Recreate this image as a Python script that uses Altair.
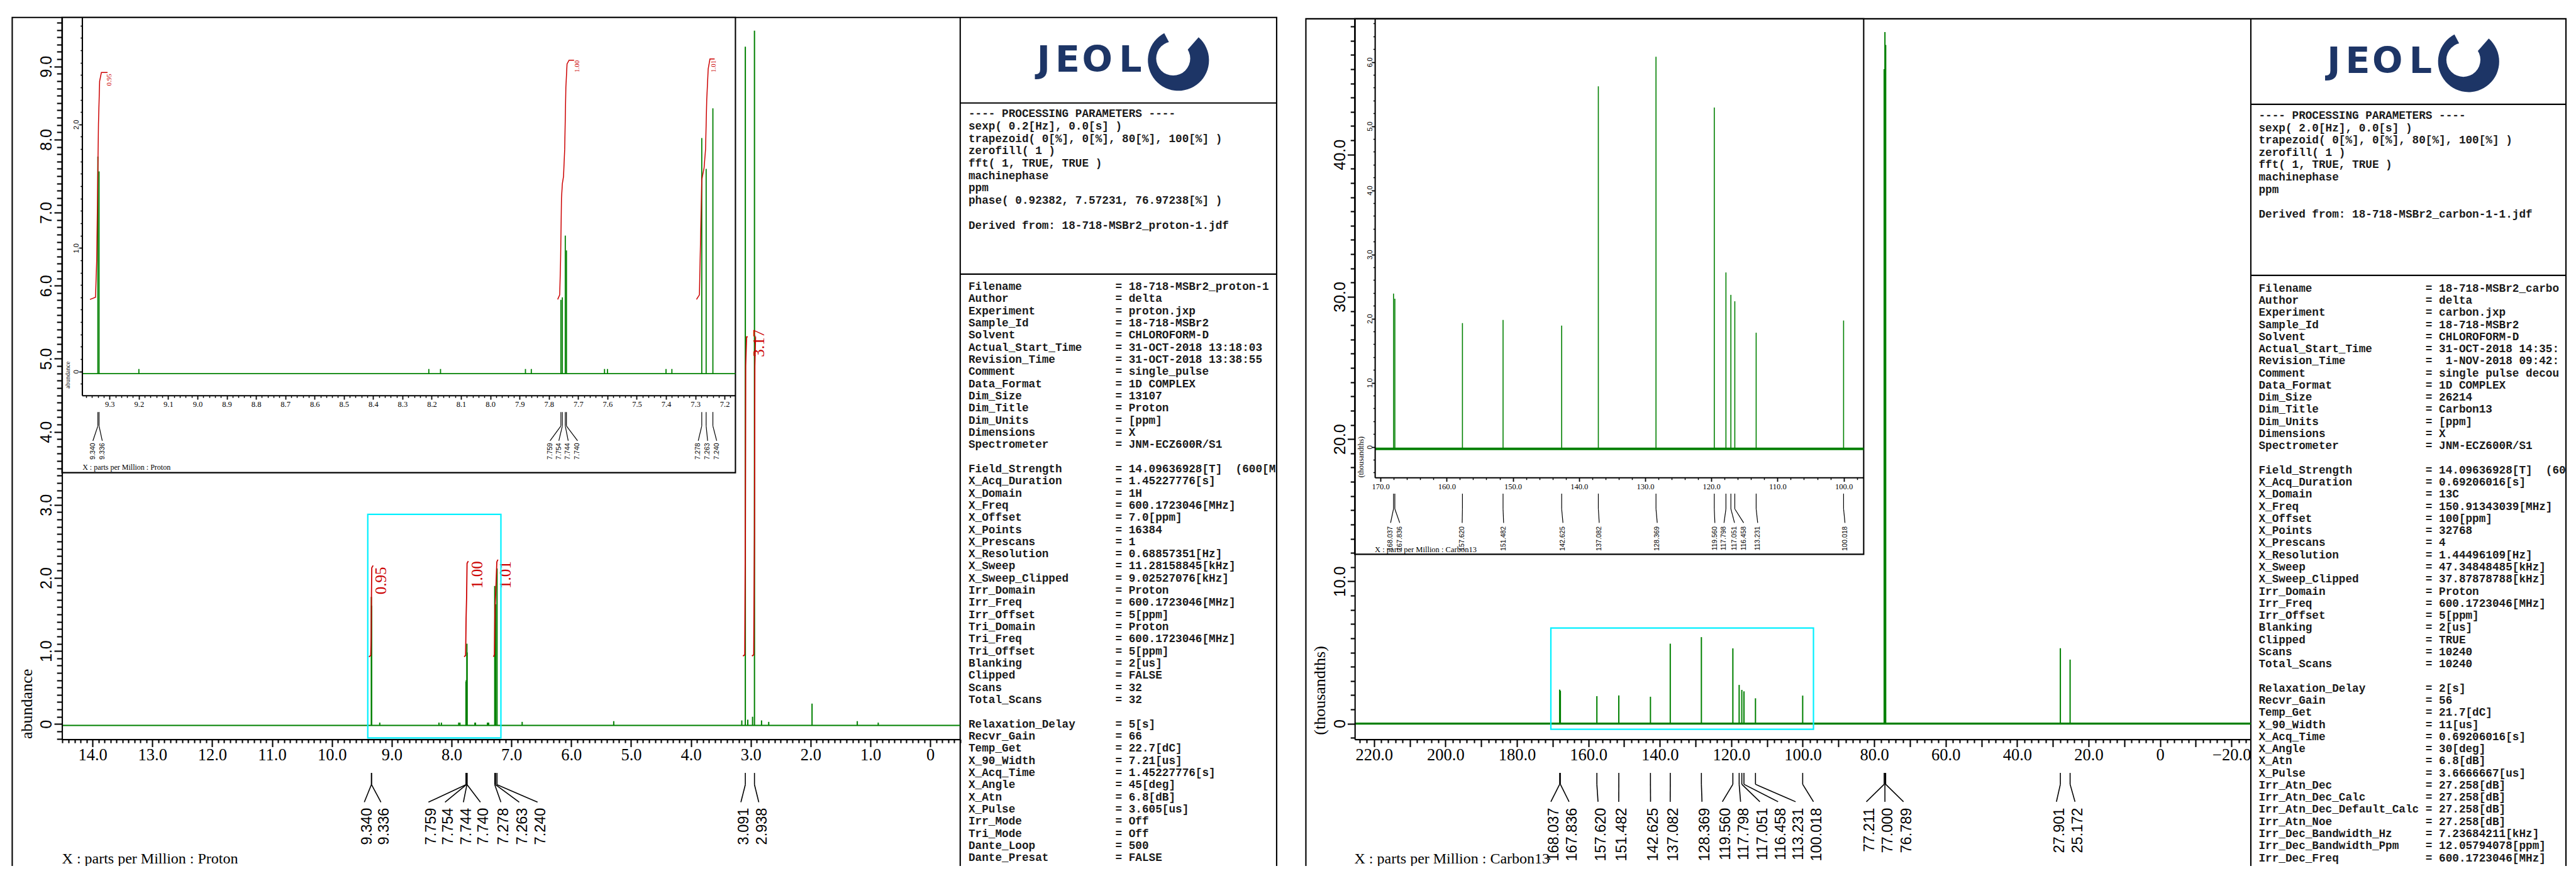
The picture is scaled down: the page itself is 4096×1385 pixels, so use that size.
import altair as alt
import pandas as pd
import numpy as np

S = 0.694
W, H = 4080, 1369


def P(v):
    return v * S - 8.0


GREEN = "#008000"
RED = "#cc0000"
CYAN = "#00f0ff"
NAVY = "#1d3566"
SERIF = "Liberation Serif"
SANS = "Liberation Sans"
MONO = "Liberation Mono"

# ---------------- 1H (proton) spectrum ----------------
H_PEAK_PPM = [9.340, 9.336, 7.759, 7.754, 7.744, 7.740, 7.278, 7.263, 7.240,
              3.091, 2.938, 1.976, 5.290, 3.150, 3.050, 2.970, 2.820, 2.700,
              1.220, 0.870, 9.200, 8.210, 8.170, 7.880, 7.860, 7.610, 7.600,
              7.400, 7.380, 6.820]
H_PEAK_HT = [1.74, 1.62, 0.58, 0.60, 1.10, 0.98, 1.89, 1.64, 2.13,
             9.27, 9.49, 0.28, 0.04, 0.05, 0.06, 0.10, 0.05, 0.03,
             0.04, 0.02, 0.02, 0.02, 0.02, 0.02, 0.02, 0.02, 0.02,
             0.02, 0.02, 0.03]
H_BASE = -0.018
H_LABELS = ["9.340", "9.336", "7.759", "7.754", "7.744", "7.740", "7.278", "7.263", "7.240", "3.091", "2.938"]
H_LABEL_PEAK = [9.340, 9.336, 7.759, 7.754, 7.744, 7.740, 7.278, 7.263, 7.240, 3.091, 2.938]
H_SLOT_MAIN = [9.458, 9.180, 8.386, 8.109, 7.802, 7.518, 7.175, 6.869, 6.563, 3.165, 2.866]
H_SLOT_INSET = [9.357, 9.325, 7.796, 7.766, 7.734, 7.702, 7.290, 7.258, 7.227]

# integral curves, main proton panel
H_INTM_G = [1, 1, 1, 1, 1, 1, 2, 2, 2, 2, 2, 2, 3, 3, 3, 3, 3, 3, 4, 4, 4, 4, 4, 4, 5, 5, 5, 5, 5]
H_INTM_P = [9.38, 9.35, 9.343, 9.338, 9.333, 9.31,
            7.79, 7.765, 7.757, 7.748, 7.741, 7.72,
            7.30, 7.283, 7.275, 7.262, 7.243, 7.225,
            3.13, 3.10, 3.091, 3.085, 3.07, 3.05,
            2.98, 2.95, 2.938, 2.932, 2.92]
H_INTM_V = [0.92, 0.94, 1.20, 1.80, 2.14, 2.17,
            0.92, 0.94, 1.45, 1.75, 2.20, 2.23,
            0.92, 0.95, 1.55, 1.80, 2.22, 2.25,
            0.93, 0.95, 2.60, 4.90, 5.30, 5.30,
            0.93, 0.95, 2.60, 4.90, 5.30]
H_INTM_T = ["0.95", "1.00", "1.01", "3.17"]
H_INTM_TP = [9.18, 7.57, 7.10, 2.86]
H_INTM_TV = [2.15, 2.23, 2.23, 5.40]

# integral curves, proton inset
H_INTI_G = [1] * 8 + [2] * 11 + [3] * 10
H_INTI_P = [9.367, 9.348, 9.344, 9.341, 9.338, 9.334, 9.328, 9.307,
            7.770, 7.763, 7.760, 7.757, 7.754, 7.750, 7.746, 7.742, 7.738, 7.731, 7.714,
            7.296, 7.286, 7.281, 7.278, 7.270, 7.265, 7.261, 7.256, 7.250, 7.234]
H_INTI_V = [0.583, 0.60, 0.90, 1.45, 2.00, 2.35, 2.42, 2.42,
            0.583, 0.62, 0.90, 1.40, 1.52, 1.58, 1.80, 2.30, 2.49, 2.52, 2.52,
            0.583, 0.62, 1.20, 1.55, 1.65, 1.80, 2.20, 2.45, 2.53, 2.53]
H_INTI_T = ["0.95", "1.00", "1.01"]
H_INTI_TP = [9.300, 7.702, 7.237]
H_INTI_TV = [2.41, 2.52, 2.52]
H_ZOOM_BOX = [9.40, 7.175, 2.87, -0.19]

# ---------------- 13C spectrum ----------------
C_PEAK_PPM = [168.037, 167.836, 157.620, 151.482, 142.625, 137.082, 128.369, 119.560,
              117.798, 117.051, 116.458, 113.231, 100.018, 77.211, 77.000, 76.789,
              27.901, 25.172]
C_PEAK_HT = [2.39, 2.31, 1.93, 1.98, 1.89, 5.62, 6.08, 5.29,
             2.72, 2.37, 2.27, 1.78, 1.97, 46.0, 48.6, 47.7,
             5.3, 4.5]
C_LABELS = ["168.037", "167.836", "157.620", "151.482", "142.625", "137.082", "128.369", "119.560",
            "117.798", "117.051", "116.458", "113.231", "100.018", "77.211", "77.000", "76.789",
            "27.901", "25.172"]
C_SLOT_MAIN = [170.5, 165.4, 157.3, 151.5, 142.6, 137.1, 128.2, 122.5,
               117.4, 112.0, 106.9, 102.0, 97.0, 82.2, 77.0, 71.8, 29.0, 23.8]
C_SLOT_INSET = [168.48, 167.10, 157.66, 151.40, 142.43, 136.95, 128.18, 119.47,
                118.09, 116.50, 115.12, 113.0, 99.81]
C_ZOOM_BOX = [170.5, 97.0, 6.72, -0.40]

# ---------------- parameter text ----------------
L_PROC = ["---- PROCESSING PARAMETERS ----", "sexp( 0.2[Hz], 0.0[s] )",
          "trapezoid( 0[%], 0[%], 80[%], 100[%] )", "zerofill( 1 )", "fft( 1, TRUE, TRUE )",
          "machinephase", "ppm", "phase( 0.92382, 7.57231, 76.97238[%] )", "",
          "Derived from: 18-718-MSBr2_proton-1.jdf"]
R_PROC = ["---- PROCESSING PARAMETERS ----", "sexp( 2.0[Hz], 0.0[s] )",
          "trapezoid( 0[%], 0[%], 80[%], 100[%] )", "zerofill( 1 )", "fft( 1, TRUE, TRUE )",
          "machinephase", "ppm", "", "Derived from: 18-718-MSBr2_carbon-1-1.jdf"]
L_KEYS = ["Filename", "Author", "Experiment", "Sample_Id", "Solvent", "Actual_Start_Time",
          "Revision_Time", "Comment", "Data_Format", "Dim_Size", "Dim_Title", "Dim_Units",
          "Dimensions", "Spectrometer", "", "Field_Strength", "X_Acq_Duration", "X_Domain",
          "X_Freq", "X_Offset", "X_Points", "X_Prescans", "X_Resolution", "X_Sweep",
          "X_Sweep_Clipped", "Irr_Domain", "Irr_Freq", "Irr_Offset", "Tri_Domain", "Tri_Freq",
          "Tri_Offset", "Blanking", "Clipped", "Scans", "Total_Scans", "", "Relaxation_Delay",
          "Recvr_Gain", "Temp_Get", "X_90_Width", "X_Acq_Time", "X_Angle", "X_Atn", "X_Pulse",
          "Irr_Mode", "Tri_Mode", "Dante_Loop", "Dante_Presat"]
L_VALS = ["18-718-MSBr2_proton-1", "delta", "proton.jxp", "18-718-MSBr2", "CHLOROFORM-D",
          "31-OCT-2018 13:18:03", "31-OCT-2018 13:38:55", "single_pulse", "1D COMPLEX", "13107",
          "Proton", "[ppm]", "X", "JNM-ECZ600R/S1", "", "14.09636928[T]  (600[M", "1.45227776[s]",
          "1H", "600.1723046[MHz]", "7.0[ppm]", "16384", "1", "0.68857351[Hz]", "11.28158845[kHz]",
          "9.02527076[kHz]", "Proton", "600.1723046[MHz]", "5[ppm]", "Proton", "600.1723046[MHz]",
          "5[ppm]", "2[us]", "FALSE", "32", "32", "", "5[s]", "66", "22.7[dC]", "7.21[us]",
          "1.45227776[s]", "45[deg]", "6.8[dB]", "3.605[us]", "Off", "Off", "500", "FALSE"]
R_KEYS = ["Filename", "Author", "Experiment", "Sample_Id", "Solvent", "Actual_Start_Time",
          "Revision_Time", "Comment", "Data_Format", "Dim_Size", "Dim_Title", "Dim_Units",
          "Dimensions", "Spectrometer", "", "Field_Strength", "X_Acq_Duration", "X_Domain",
          "X_Freq", "X_Offset", "X_Points", "X_Prescans", "X_Resolution", "X_Sweep",
          "X_Sweep_Clipped", "Irr_Domain", "Irr_Freq", "Irr_Offset", "Blanking", "Clipped",
          "Scans", "Total_Scans", "", "Relaxation_Delay", "Recvr_Gain", "Temp_Get", "X_90_Width",
          "X_Acq_Time", "X_Angle", "X_Atn", "X_Pulse", "Irr_Atn_Dec", "Irr_Atn_Dec_Calc",
          "Irr_Atn_Dec_Default_Calc", "Irr_Atn_Noe", "Irr_Dec_Bandwidth_Hz",
          "Irr_Dec_Bandwidth_Ppm", "Irr_Dec_Freq"]
R_VALS = ["18-718-MSBr2_carbo", "delta", "carbon.jxp", "18-718-MSBr2", "CHLOROFORM-D",
          "31-OCT-2018 14:35:", " 1-NOV-2018 09:42:", "single pulse decou", "1D COMPLEX", "26214",
          "Carbon13", "[ppm]", "X", "JNM-ECZ600R/S1", "", "14.09636928[T]  (60", "0.69206016[s]",
          "13C", "150.91343039[MHz]", "100[ppm]", "32768", "4", "1.44496109[Hz]",
          "47.34848485[kHz]", "37.87878788[kHz]", "Proton", "600.1723046[MHz]", "5[ppm]", "2[us]",
          "TRUE", "10240", "10240", "", "2[s]", "56", "21.7[dC]", "11[us]", "0.69206016[s]",
          "30[deg]", "6.8[dB]", "3.6666667[us]", "27.258[dB]", "27.258[dB]", "27.258[dB]",
          "27.258[dB]", "7.23684211[kHz]", "12.05794078[ppm]", "600.1723046[MHz]"]

# ---------------- coordinate systems (domain, pixel range in reference px) ----------------
CS = {
    "LM": dict(x=([14.51, -0.50], 142, 2200), y=([-0.209, 9.671], 1694, 40)),
    "LI": dict(x=([9.394, 7.163], 188, 1685), y=([-0.194, 2.866], 906, 40)),
    "RM": dict(x=([225.38, -25.41], 3104, 5157), y=([-1.104, 49.54], 1694, 43)),
    "RI": dict(x=([170.858, 96.98], 3150, 4270), y=([-0.476, 6.673], 1094, 43)),
}


def scale(spec):
    dom, r0, r1 = spec
    return alt.Scale(domain=dom, range=[P(r0), P(r1)], nice=False, zero=False)


def ex(cs, f, axis=None):
    return alt.X(f"{f}:Q", scale=scale(CS[cs]["x"]), axis=axis)


def ey(cs, f, axis=None):
    return alt.Y(f"{f}:Q", scale=scale(CS[cs]["y"]), axis=axis)


def dummy():
    return pd.DataFrame({"k": [0]})


def deco_rect(x0, y0, x1, y1, fill="white", fo=1.0, stroke="black", sw=2.1):
    return alt.Chart(dummy()).mark_rect(fill=fill, fillOpacity=fo, stroke=stroke, strokeWidth=sw).encode(
        x=alt.value(P(x0)), x2=alt.value(P(x1)), y=alt.value(P(y0)), y2=alt.value(P(y1)))


def deco_line(x0, y0, x1, y1, sw=2.1, color="black"):
    return alt.Chart(dummy()).mark_rule(color=color, strokeWidth=sw).encode(
        x=alt.value(P(x0)), x2=alt.value(P(x1)), y=alt.value(P(y0)), y2=alt.value(P(y1)))


def deco_text(t, x, y, angle=0, align="left", baseline="alphabetic", font=SERIF, size=25.0, color="black", weight="normal"):
    mk = dict(align=align, baseline=baseline, font=font, fontSize=size, color=color, fontWeight=weight)
    if angle:
        mk["angle"] = angle
    return alt.Chart(pd.DataFrame({"t": [t]})).mark_text(**mk).encode(
        x=alt.value(P(x)), y=alt.value(P(y)), text="t:N")


def x_axis_layer(cs, y_full, values, tick_full, labels=False, expr=None, size=26.5, base_full=None,
                 domain=False, tw=2.1, font=SERIF):
    kw = dict(orient="bottom", offset=P(y_full) - H, values=values, tickSize=tick_full * S, tickWidth=tw,
              tickColor="black", domain=domain, grid=False, title=None, zindex=1, labels=labels)
    if domain:
        kw.update(domainColor="black", domainWidth=2.1)
    if labels:
        kw.update(labelExpr=expr, labelFont=font, labelFontSize=size, labelColor="black",
                  labelBaseline="alphabetic", labelAlign="center", labelOverlap=False, labelFlush=False,
                  labelPadding=(base_full - y_full) * S - tick_full * S)
    df = pd.DataFrame({"v": [CS[cs]["x"][0][0]]})
    return alt.Chart(df).mark_point(opacity=0).encode(x=ex(cs, "v", alt.Axis(**kw)))


def y_axis_layer(cs, x_full, values, tick_full, labels=False, expr=None, size=25.0, edge_full=None,
                 domain=False, tw=2.1, font=SANS):
    kw = dict(orient="left", offset=-P(x_full), values=values, tickSize=tick_full * S, tickWidth=tw,
              tickColor="black", domain=domain, grid=False, title=None, zindex=1, labels=labels)
    if domain:
        kw.update(domainColor="black", domainWidth=2.1)
    if labels:
        kw.update(labelExpr=expr, labelFont=font, labelFontSize=size, labelColor="black", labelAngle=270,
                  labelBaseline="alphabetic", labelAlign="center", labelOverlap=False, labelFlush=False,
                  labelPadding=(x_full - edge_full) * S - tick_full * S)
    df = pd.DataFrame({"v": [CS[cs]["y"][0][0]]})
    return alt.Chart(df).mark_point(opacity=0).encode(y=ey(cs, "v", alt.Axis(**kw)))


def spectrum(cs, ppm, ht, base, lo, hi, sw=2.0, base_w=2.0):
    dom = CS[cs]["x"][0]
    out = []
    bl = pd.DataFrame({"p": [dom[0]], "p2": [dom[1]], "b": [base]})
    out.append(alt.Chart(bl).mark_rule(color=GREEN, strokeWidth=base_w).encode(
        x=ex(cs, "p"), x2=alt.X2("p2"), y=ey(cs, "b")))
    pk = pd.DataFrame({"p": ppm, "h": ht})
    pk["b"] = base
    pk = pk[(pk.p >= lo) & (pk.p <= hi)]
    out.append(alt.Chart(pk).mark_rule(color=GREEN, strokeWidth=sw).encode(
        x=ex(cs, "p"), y=ey(cs, "b"), y2=alt.Y2("h")))
    return out


def peak_marks(cs, peaks, slots, texts, yv0, yv1, yd, ytxt, size, dy=0.0, tw=1.6):
    df = pd.DataFrame({"p": peaks, "s": slots, "t": texts})
    out = [
        alt.Chart(df).mark_rule(color="black", strokeWidth=tw).encode(
            x=ex(cs, "p"), y=alt.value(P(yv0)), y2=alt.value(P(yv1))),
        alt.Chart(df).mark_rule(color="black", strokeWidth=tw).encode(
            x=ex(cs, "p"), x2=alt.X2("s"), y=alt.value(P(yv1)), y2=alt.value(P(yd))),
        alt.Chart(df).mark_text(angle=270, align="right", baseline="middle", font=SANS, fontSize=size,
                                color="black", dy=dy).encode(
            x=ex(cs, "s"), y=alt.value(P(ytxt)), text="t:N"),
    ]
    return out


def integrals(cs, g, p, v, tt, tp, tv, size, sw=1.8):
    df = pd.DataFrame({"g": g, "p": p, "v": v})
    df["i"] = range(len(df))
    lab = pd.DataFrame({"t": tt, "p": tp, "v": tv})
    return [
        alt.Chart(df).mark_line(color=RED, strokeWidth=sw).encode(
            x=ex(cs, "p"), y=ey(cs, "v"), detail="g:N", order="i:Q"),
        alt.Chart(lab).mark_text(angle=270, align="right", baseline="middle", font=SERIF, fontSize=size,
                                 color=RED).encode(x=ex(cs, "p"), y=ey(cs, "v"), text="t:N"),
    ]


def zoom_box(cs, box):
    df = pd.DataFrame({"x0": [box[0]], "x1": [box[1]], "y0": [box[2]], "y1": [box[3]]})
    return alt.Chart(df).mark_rect(fillOpacity=0, stroke=CYAN, strokeWidth=2.2).encode(
        x=ex(cs, "x0"), x2=alt.X2("x1"), y=ey(cs, "y0"), y2=alt.Y2("y1"))


def fmt1():
    return "datum.value == 0 ? '0' : format(datum.value, '.1f')"


def mono_block(lines, x_full, y0_full, pitch_full, size=17.7):
    rows = [(i, s.replace(" ", "\u00a0")) for i, s in enumerate(lines) if s]
    df = pd.DataFrame(rows, columns=["i", "t"])
    return alt.Chart(df).mark_text(align="left", baseline="middle", font=MONO, fontSize=size,
                                   fontWeight="bold", color="#1a1a1a").encode(
        x=alt.value(P(x_full)),
        y=alt.Y("i:Q", scale=alt.Scale(domain=[0, 1], range=[P(y0_full), P(y0_full + pitch_full)]), axis=None),
        text="t:N")


def param_lines(keys, vals, pad):
    out = []
    for k, v in zip(keys, vals):
        out.append("" if not k else f"{k:<{pad}}= {v}")
    return out


def logo(x_letters, y_base, cx, cy):
    lt = pd.DataFrame({"t": list("JEOL"), "x": [P(v) for v in x_letters]})
    out = [alt.Chart(lt).mark_text(align="center", baseline="alphabetic", font="DejaVu Sans", fontSize=57,
                                   fontWeight="bold", color=NAVY).encode(
        x=alt.X("x:Q", scale=None), y=alt.value(P(y_base)), text="t:N")]
    # swoosh: navy pie with an off-centre white hole -> thick right side, thin left side
    out.append(alt.Chart(dummy()).mark_arc(theta=0.72, theta2=5.80, radius=70 * S, radius2=0, color=NAVY).encode(
        x=alt.value(P(cx)), y=alt.value(P(cy))))
    out.append(alt.Chart(dummy()).mark_arc(theta=0.0, theta2=6.2832, radius=39 * S, radius2=0, color="white").encode(
        x=alt.value(P(cx - 12)), y=alt.value(P(cy - 4))))
    return out


layers = []

# ---- page frames ----
layers += [deco_rect(28, 40, 2925, 2100, fo=0), deco_line(2200, 40, 2200, 2100),
           deco_line(2200, 236, 2925, 236), deco_line(2200, 628, 2925, 628)]
layers += [deco_rect(2992, 43, 5879, 2100, fo=0), deco_line(5157, 43, 5157, 2100),
           deco_line(5157, 239, 5879, 239), deco_line(5157, 631, 5879, 631)]

# ---- proton main ----
layers += spectrum("LM", H_PEAK_PPM, H_PEAK_HT, H_BASE, -1, 20)
layers += integrals("LM", H_INTM_G, H_INTM_P, H_INTM_V, H_INTM_T, H_INTM_TP, H_INTM_TV, 25)
layers.append(zoom_box("LM", H_ZOOM_BOX))
layers += peak_marks("LM", H_LABEL_PEAK, H_SLOT_MAIN, H_LABELS, 1771, 1798, 1838, 1851, 23.5, dy=5)
layers.append(deco_text("abundance", 62, 1693, angle=270, align="left", baseline="middle", size=26))
layers.append(deco_text("X : parts per Million : Proton", 142, 1978, size=24))

# ---- carbon main ----
layers += spectrum("RM", C_PEAK_PPM, C_PEAK_HT, 0.0, -30, 230, base_w=3.2)
layers.append(zoom_box("RM", C_ZOOM_BOX))
layers += peak_marks("RM", C_PEAK_PPM, C_SLOT_MAIN, C_LABELS, 1771, 1797, 1837, 1851, 23.5, dy=5)
layers.append(deco_text("(thousandths)", 3025, 1684, angle=270, align="left", baseline="middle", size=26))
layers.append(deco_text("X : parts per Million : Carbon13", 3103, 1978, size=24))

# ---- proton inset ----
layers.append(deco_rect(142, 40, 1685, 1083))
layers += spectrum("LI", H_PEAK_PPM, H_PEAK_HT, H_BASE, 7.163, 9.394, sw=1.8, base_w=1.8)
layers += integrals("LI", H_INTI_G, H_INTI_P, H_INTI_V, H_INTI_T, H_INTI_TP, H_INTI_TV, 11, sw=1.5)
layers += peak_marks("LI", H_LABEL_PEAK[:9], H_SLOT_INSET, H_LABELS[:9], 944, 976, 1010, 1015, 10.5, tw=1.2)
layers.append(deco_text("X : parts per Million : Proton", 189, 1077, size=12))
layers.append(deco_text("abundance", 156, 890, angle=270, align="left", baseline="middle", size=10))

# ---- carbon inset ----
layers.append(deco_rect(3104, 43, 4270, 1270))
layers += spectrum("RI", C_PEAK_PPM, C_PEAK_HT, -0.03, 96.98, 170.858, sw=1.6, base_w=4.0)
layers += peak_marks("RI", C_PEAK_PPM[:13], C_SLOT_INSET, C_LABELS[:13], 1131, 1166, 1198, 1206, 10.8, tw=1.2)
layers.append(deco_text("X : parts per Million : Carbon13", 3150, 1265, size=12.5))
layers.append(deco_text("(thousandths)", 3118, 1094, angle=270, align="left", baseline="middle", size=12))

# ---- text panels ----
layers += logo([2391, 2446, 2514, 2590], 164, 2700, 138)
layers += logo([5347, 5402, 5470, 5546], 167, 5656, 141)
layers.append(mono_block(L_PROC, 2219, 261, 28.4))
layers.append(mono_block(param_lines(L_KEYS, L_VALS, 22), 2219, 657, 27.85))
layers.append(mono_block(R_PROC, 5175, 265, 28.3))
layers.append(mono_block(param_lines(R_KEYS, R_VALS, 25), 5175, 661, 27.77))

# ---- axes ----
lm_maj = list(range(14, -1, -1))
lm_min = [round(v, 2) for v in np.arange(14.5, -0.55, -0.1) if abs(v - round(v)) > 1e-6]
layers.append(x_axis_layer("LM", 1694, [float(v) for v in lm_maj], 17, True, fmt1(), 26.5, 1742, domain=True))
layers.append(x_axis_layer("LM", 1694, lm_min, 8))
layers.append(y_axis_layer("LM", 142, [float(v) for v in range(0, 10)], 18, True, fmt1(), 25, 118, domain=True))
layers.append(y_axis_layer("LM", 142, [round(v, 2) for v in np.arange(-0.2, 9.65, 0.1) if abs(v - round(v)) > 1e-6], 12))

li_maj = [round(v, 2) for v in np.arange(9.3, 7.15, -0.1)]
li_min = [round(v, 3) for v in np.arange(9.38, 7.16, -0.02) if abs(v * 10 - round(v * 10)) > 1e-6]
layers.append(x_axis_layer("LI", 906, li_maj, 9, True, "format(datum.value, '.1f')", 12.5, 931, domain=True, tw=1.8))
layers.append(x_axis_layer("LI", 906, li_min, 5, tw=1.5))
layers.append(y_axis_layer("LI", 188, [0.0, 1.0, 2.0], 7, True, fmt1(), 11, 180, domain=True, tw=1.8))
layers.append(y_axis_layer("LI", 188, [round(v, 2) for v in np.arange(-0.1, 2.85, 0.1) if abs(v - round(v)) > 1e-6], 4, tw=1.5))

rm_maj = [float(v) for v in range(220, -21, -10)]
rm_min = [float(v) for v in range(224, -26, -2) if v % 10 != 0]
layers.append(x_axis_layer("RM", 1694, rm_maj, 17, True,
                           "datum.value % 20 == 0 ? (datum.value == 0 ? '0' : format(datum.value, '.1f')) : ''",
                           26.5, 1742, domain=True))
layers.append(x_axis_layer("RM", 1694, rm_min, 8))
layers.append(y_axis_layer("RM", 3104, [0.0, 10.0, 20.0, 30.0, 40.0], 17, True, fmt1(), 25, 3082, domain=True))
layers.append(y_axis_layer("RM", 3104, [float(v) for v in range(-1, 50) if v % 10 != 0], 10))

ri_maj = [float(v) for v in range(170, 96, -10)]
ri_min = [float(v) for v in range(170, 96, -2) if v % 10 != 0]
layers.append(x_axis_layer("RI", 1094, ri_maj, 9, True, "format(datum.value, '.1f')", 12.5, 1120, domain=True, tw=1.8))
layers.append(x_axis_layer("RI", 1094, ri_min, 5, tw=1.5))
layers.append(y_axis_layer("RI", 3150, [float(v) for v in range(0, 7)], 7, True, fmt1(), 11, 3143, domain=True, tw=1.8))
layers.append(y_axis_layer("RI", 3150, [round(v, 2) for v in np.arange(-0.4, 6.65, 0.2) if abs(v - round(v)) > 1e-6], 4, tw=1.5))

chart = alt.layer(*layers).resolve_scale(x="independent", y="independent").properties(
    width=W, height=H, autosize=alt.AutoSizeParams(type="none"), padding=0
).configure(background="white").configure_view(strokeWidth=0)

chart.save("out.html", embed_options={"renderer": "svg", "actions": False})
